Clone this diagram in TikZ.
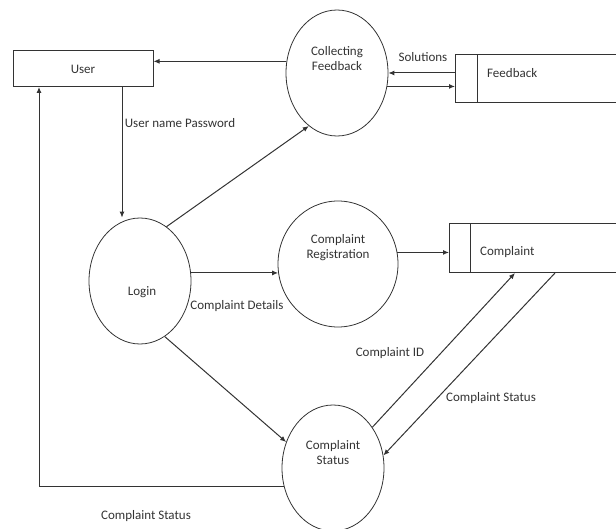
\documentclass[tikz,border=0pt]{standalone}
\usepackage{fontspec}
\setmainfont{Carlito}
\usetikzlibrary{shapes.geometric,arrows.meta}
\begin{document}
\begin{tikzpicture}[x=1pt,y=-1pt,
  every node/.style={font=\fontsize{13}{15}\selectfont, text=black!80, inner sep=0pt},
  proc/.style={draw=black!80, line width=0.8pt, ellipse, minimum width=102pt, minimum height=126pt},
  box/.style={draw=black!80, line width=1pt, rectangle, minimum width=140pt, minimum height=36pt},
  line/.style={draw=black!80, line width=1pt},
  arr/.style={line, -{Latex[length=6pt,width=5pt]}}]
\useasboundingbox (0,0) rectangle (616,529);
% entity
\node[box] (user) at (83,69) {User};
% processes
\node[proc] (cf) at (337,73) {};
\node[align=center] (cft) at (337,59) {Collecting\\Feedback};
\node[proc] (login) at (140,281) {};
\node (logint) at (142,292) {Login};
\node[proc, minimum width=120pt] (cr) at (338,264) {};
\node[align=center] (crt) at (338,248) {Complaint\\Registration};
\node[proc] (cs) at (333,468) {};
\node[align=center] (cst) at (333,453) {Complaint\\Status};
% data stores
\coordinate (fbTL) at (455,55); \coordinate (fbBL) at (455,103);
\coordinate (fbTR) at (616,55); \coordinate (fbBR) at (616,103);
\coordinate (fbDT) at (477,55); \coordinate (fbDB) at (477,103);
\draw[line] (fbTR) -- (fbTL) -- (fbBL) -- (fbBR);
\draw[line] (fbDT) -- (fbDB);
\node[anchor=west] (fbt) at (487,73) {Feedback};
\coordinate (csTL) at (449,224); \coordinate (csBL) at (449,273);
\coordinate (csTR) at (616,224); \coordinate (csBR) at (616,273);
\coordinate (csDT) at (470,224); \coordinate (csDB) at (470,273);
\draw[line] (csTR) -- (csTL) -- (csBL) -- (csBR);
\draw[line] (csDT) -- (csDB);
\node[anchor=west] (cpt) at (480,252) {Complaint};
% helper coordinates
\coordinate (fbL) at (455,73);
\coordinate (csL) at (449,252);
\coordinate (uL) at (122,87);
\coordinate (uLL) at (39,87);
\coordinate (csIn) at (515,273);
\coordinate (csOut) at (555,273);
% connectors
\draw[arr] (cf.167.6) -- (cf.167.6 -| user.east);
\draw[arr] (fbL) -- (cf.east);
\draw[arr] (cf.-15.7) -- (cf.-15.7 -| fbL);
\draw[arr] (uL) -- (uL |- login.north);
\draw[arr] (cs.201.4) -| (uLL);
\draw[arr] (login.64) -- (cf.242);
\draw[arr] (login.9) -- (login.9 -| cr.188.6);
\draw[arr] (cr.11.5) -- (cr.11.5 -| csL);
\draw[arr] (login.-66) -- (cs.151);
\draw[arr] (cs.46.4) -- (csIn);
\draw[arr] (csOut) -- (cs.14);
% labels
\node (l1) at (423,57) {Solutions};
\node (l2) at (180,123) {User name Password};
\node (l3) at (237,306) {Complaint Details};
\node (l4) at (390,353) {Complaint ID};
\node (l5) at (491,398) {Complaint Status};
\node (l6) at (146,516) {Complaint Status};
\end{tikzpicture}
\end{document}
